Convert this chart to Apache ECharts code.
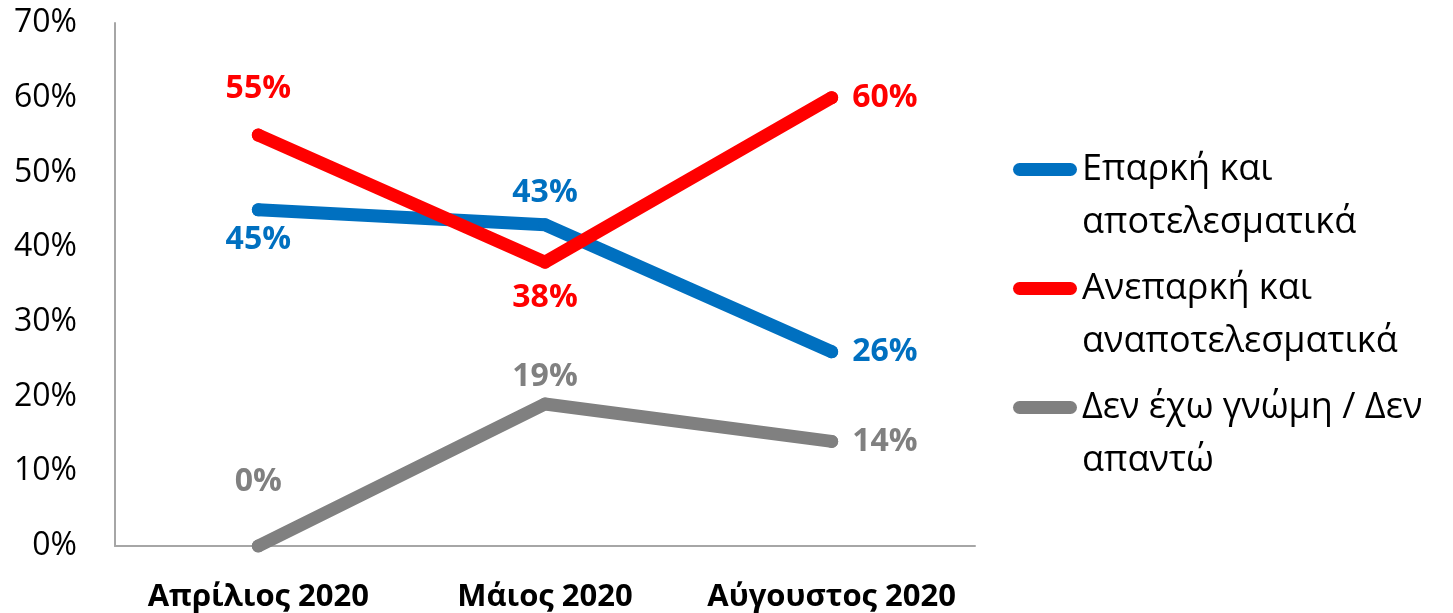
<!DOCTYPE html>
<html><head><meta charset="utf-8">
<script src="https://cdn.jsdelivr.net/npm/echarts@6/dist/echarts.min.js"></script>
<style>html,body{margin:0;padding:0;background:#fff}#c{width:1453px;height:613px}</style>
</head><body><div id="c"></div>
<script>
const categories = ['Απρίλιος 2020', 'Μάιος 2020', 'Αύγουστος 2020'];
const seriesNames = ['Επαρκή και αποτελεσματικά', 'Ανεπαρκή και αναποτελεσματικά', 'Δεν έχω γνώμη / Δεν απαντώ'];
const legendLines = ['Επαρκή και\nαποτελεσματικά', 'Ανεπαρκή και\nαναποτελεσματικά', 'Δεν έχω γνώμη / Δεν\nαπαντώ'];
const valuesAdequate = [45, 43, 26];
const valuesInadequate = [55, 38, 60];
const valuesNoOpinion = [0, 19, 14];
const yTicks = [0, 10, 20, 30, 40, 50, 60, 70];
const colors = ['#0070C0', '#FF0000', '#808080'];

const labelPos = [
  [['bottom', 8], ['top', 9], ['right', 14]],
  [['top', 24], ['bottom', 13], ['right', 14]],
  [['top', 42], ['top', 5], ['right', 14]]
];
const allValues = [valuesAdequate, valuesInadequate, valuesNoOpinion];
const font = "'Open Sans', 'Noto Sans', sans-serif";
const LH = 53;

const series = allValues.map((vals, si) => ({
  name: seriesNames[si],
  type: 'line',
  symbol: 'circle',
  symbolSize: 13,
  showSymbol: true,
  itemStyle: { color: colors[si] },
  lineStyle: { width: 13, color: colors[si], cap: 'round', join: 'round' },
  emphasis: { disabled: true },
  data: vals.map((v, i) => ({
    value: v,
    label: { position: labelPos[si][i][0], distance: labelPos[si][i][1] }
  })),
  label: {
    show: true,
    formatter: p => p.value + '%',
    color: colors[si],
    fontFamily: font,
    fontWeight: 'bold',
    fontSize: 32
  }
}));

const chart = echarts.init(document.getElementById('c'), null, { renderer: 'canvas' });
chart.setOption({
  animation: false,
  backgroundColor: '#fff',
  grid: { left: 115, right: 478, top: 23, bottom: 66, containLabel: false },
  xAxis: {
    type: 'category',
    data: categories,
    boundaryGap: true,
    axisLine: { lineStyle: { color: '#a6a6a6', width: 2 } },
    axisTick: { show: false },
    axisLabel: { interval: 0, color: '#000', fontFamily: font, fontWeight: 'bold', fontSize: 31, margin: 36 }
  },
  yAxis: {
    type: 'value',
    min: yTicks[0], max: yTicks[yTicks.length - 1], interval: 10,
    axisLine: { show: true, lineStyle: { color: '#a6a6a6', width: 2 } },
    axisTick: { show: false },
    splitLine: { show: false },
    axisLabel: { color: '#000', fontFamily: font, fontSize: 32, margin: 38, formatter: v => v + '%' }
  },
  legend: {
    orient: 'vertical',
    left: 1008,
    top: 85,
    itemWidth: 64,
    itemHeight: 13,
    itemGap: -40,
    icon: 'path://M6.5,0 H57.5 A6.5,6.5 0 0 1 57.5,13 H6.5 A6.5,6.5 0 0 1 6.5,0 Z',
    data: seriesNames,
    formatter: name => ' \n' + legendLines[seriesNames.indexOf(name)],
    textStyle: { color: '#000', fontFamily: font, fontSize: 36, lineHeight: LH }
  },
  series: series
});
</script></body></html>
